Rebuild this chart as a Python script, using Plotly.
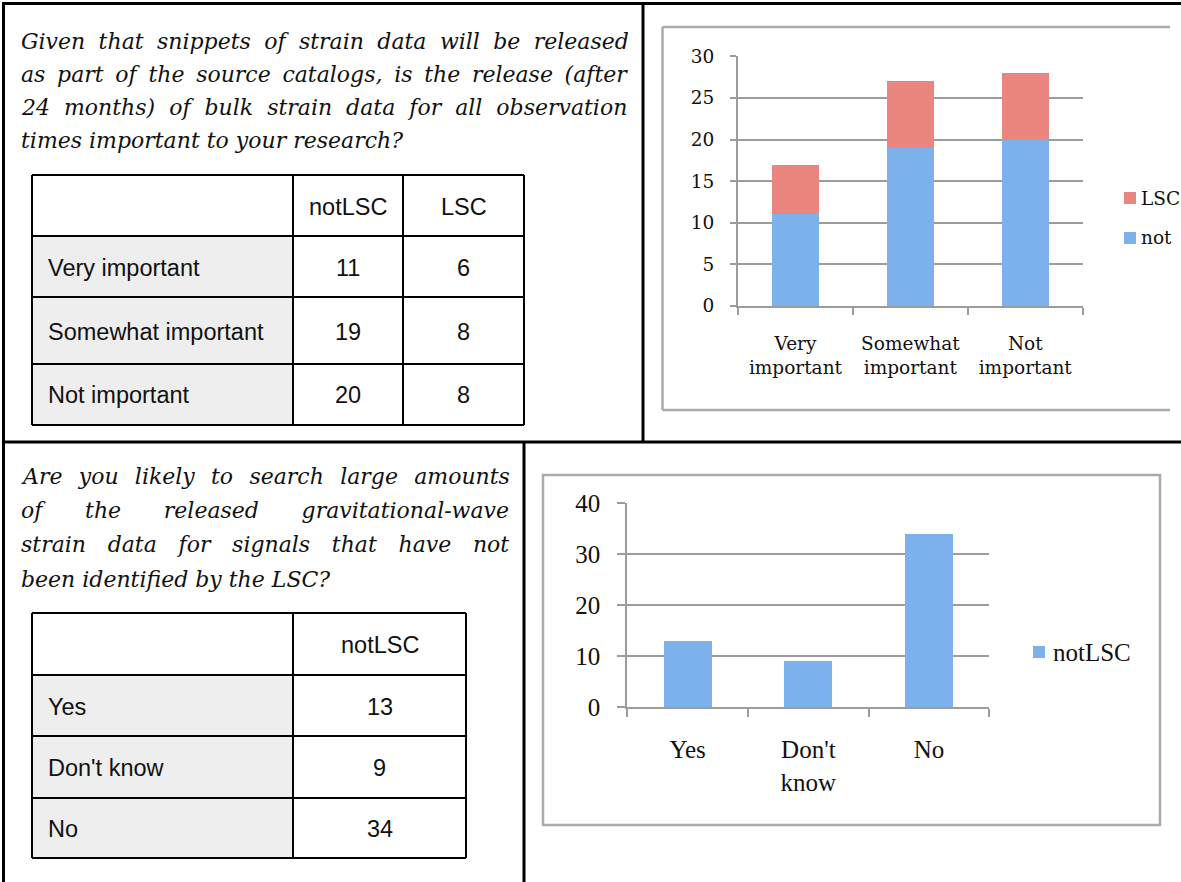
import plotly.graph_objects as go

W, H = 1181, 882

# ---------------- data ----------------
imp_categories = ["Very important", "Somewhat important", "Not important"]
imp_ticktext = ["Very<br>important", "Somewhat<br>important", "Not<br>important"]
imp_notLSC = [11, 19, 20]
imp_LSC = [6, 8, 8]

search_categories = ["Yes", "Don't know", "No"]
search_ticktext = ["Yes", "Don't<br>know", "No"]
search_notLSC = [13, 9, 34]

top_question = [
    "Given that snippets of strain data will be released",
    "as part of the source catalogs, is the release (after",
    "24 months) of bulk strain data for all observation",
    "times important to your research?",
]
bottom_question = [
    "Are you likely to search large amounts",
    "of the released gravitational-wave",
    "strain data for signals that have not",
    "been identified by the LSC?",
]

# ---------------- styles ----------------
BLUE = "#7db1ec"
RED = "#eb857f"
GRID = "#9c9c9c"
BOX = "#aaaaaa"
TXT = "#111111"
SERIF_TOP = "DejaVu Serif"
SERIF_BOT = "Liberation Serif"
SANS = "Liberation Sans"
TOP_FS = 18.5
BOT_FS = 25


def X(px):
    return px / W


def Y(py):
    return 1 - py / H


fig = go.Figure()

fig.add_trace(go.Bar(x=imp_categories, y=imp_notLSC, name="notLSC", marker=dict(color=BLUE, line=dict(width=0)),
                     width=0.41, xaxis="x", yaxis="y", showlegend=False))
fig.add_trace(go.Bar(x=imp_categories, y=imp_LSC, name="LSC", marker=dict(color=RED, line=dict(width=0)),
                     width=0.41, xaxis="x", yaxis="y", showlegend=False))
fig.add_trace(go.Bar(x=search_categories, y=search_notLSC, name="notLSC", marker=dict(color=BLUE, line=dict(width=0)),
                     width=0.40, xaxis="x2", yaxis="y2", showlegend=False))

shapes = []
annotations = []


def hline(x0, x1, y, color="black", w=2):
    shapes.append(dict(type="line", xref="paper", yref="paper", x0=X(x0), x1=X(x1), y0=Y(y), y1=Y(y),
                       line=dict(color=color, width=w)))


def vline(x, y0, y1, color="black", w=2):
    shapes.append(dict(type="line", xref="paper", yref="paper", x0=X(x), x1=X(x), y0=Y(y0), y1=Y(y1),
                       line=dict(color=color, width=w)))


def rect(x0, y0, x1, y1, fill, layer="below"):
    shapes.append(dict(type="rect", xref="paper", yref="paper", x0=X(x0), x1=X(x1), y0=Y(y0), y1=Y(y1),
                       fillcolor=fill, line=dict(width=0), layer=layer))


def text(x, y, s, family, size, xanchor="left", style="normal", color=TXT):
    annotations.append(dict(xref="paper", yref="paper", x=X(x), y=Y(y), text=s, showarrow=False,
                            xanchor=xanchor, yanchor="middle",
                            font=dict(family=family, size=size, color=color, style=style)))


# ---------------- page frame ----------------
hline(2, W, 3.5, w=3)
vline(3.5, 2, H, w=3)
vline(643, 3, 442, w=3)
hline(2, W, 442, w=3)
vline(524, 442, H, w=3)

# ---------------- chart boxes ----------------
hline(662.5, 1170, 27, color=BOX, w=2.5)
hline(662.5, 1170, 410, color=BOX, w=2.5)
vline(662.5, 27, 410, color=BOX, w=2.5)
shapes.append(dict(type="rect", xref="paper", yref="paper", x0=X(543), x1=X(1160), y0=Y(475), y1=Y(825),
                   line=dict(color=BOX, width=2.5), fillcolor="rgba(0,0,0,0)"))

# ---------------- tables ----------------
def table(xs, ys, rows, header, values):
    rect(xs[0], ys[1], xs[1], ys[-1], "#eeeeee")
    for x in xs:
        vline(x, ys[0], ys[-1], w=2)
    for y in ys:
        hline(xs[0], xs[-1], y, w=2)
    for j, h in enumerate(header):
        text((xs[j + 1] + xs[j + 2]) / 2, (ys[0] + ys[1]) / 2 + 1, h, SANS, 23.5, xanchor="center")
    for i, r in enumerate(rows):
        yc = (ys[i + 1] + ys[i + 2]) / 2 + 1
        text(xs[0] + 14, yc, r, SANS, 23.5)
        for j, col in enumerate(values):
            text((xs[j + 1] + xs[j + 2]) / 2, yc, str(col[i]), SANS, 23.5, xanchor="center")


table([32, 293, 403, 524], [175, 236, 297, 364, 425], imp_categories, ["notLSC", "LSC"], [imp_notLSC, imp_LSC])
table([32, 293, 466], [613, 675, 736, 798, 858], search_categories, ["notLSC"], [search_notLSC])

# ---------------- question text ----------------
QSIZE = 22
top_ws = [6.4, 4.7, 7, 0]
for i, (line, ws) in enumerate(zip(top_question, top_ws)):
    s = f'<span style="word-spacing:{ws}px">{line}</span>' if ws else line
    text(19, 41.5 + 33 * i, s, SERIF_TOP, QSIZE, style="italic")

bot_ws = [9.3, 35.7, 14.7, 0]
bot_y = [476, 510, 544, 579]
for line, ws, yy in zip(bottom_question, bot_ws, bot_y):
    s = f'<span style="word-spacing:{ws}px">{line}</span>' if ws else line
    text(19, yy, s, SERIF_TOP, QSIZE, style="italic")

# ---------------- legends (manual, the cell clips the right edge) ----------------
rect(1124, 192, 1136, 204, RED, layer="above")
text(1139, 198, "LSC", SERIF_TOP, TOP_FS)
rect(1124, 232, 1136, 244, BLUE, layer="above")
text(1139, 238, "not", SERIF_TOP, TOP_FS)

rect(1033, 646, 1045, 658, BLUE, layer="above")
text(1051, 652, "notLSC", SERIF_BOT, BOT_FS)

axis_common = dict(showline=True, linecolor=GRID, linewidth=2, ticks="outside", tickcolor=GRID, tickwidth=2,
                   zeroline=False, automargin=False, fixedrange=True)

fig.update_layout(
    width=W, height=H, margin=dict(l=0, r=0, t=0, b=0, pad=0, autoexpand=False),
    paper_bgcolor="white", plot_bgcolor="white",
    barmode="stack", showlegend=False,
    xaxis=dict(domain=[X(738), X(1082.7)], anchor="y", type="category", showgrid=False,
               tickson="boundaries", ticklen=7, tickvals=imp_categories, ticktext=imp_ticktext,
               ticklabelstandoff=20,
               tickfont=dict(family=SERIF_TOP, size=TOP_FS, color=TXT), **axis_common),
    yaxis=dict(domain=[Y(306), Y(56.4)], anchor="x", range=[0, 30], dtick=5, showgrid=True,
               gridcolor=GRID, gridwidth=2, ticklen=6, ticklabelstandoff=12,
               tickfont=dict(family=SERIF_TOP, size=TOP_FS, color=TXT), **axis_common),
    xaxis2=dict(domain=[X(627.3), X(989.4)], anchor="y2", type="category", showgrid=False,
                tickson="boundaries", ticklen=8, tickvals=search_categories, ticktext=search_ticktext,
                ticklabelstandoff=19,
                tickfont=dict(family=SERIF_BOT, size=BOT_FS, color=TXT), **axis_common),
    yaxis2=dict(domain=[Y(707.3), Y(503.3)], anchor="x2", range=[0, 40], dtick=10, showgrid=True,
                gridcolor=GRID, gridwidth=2, ticklen=8, ticklabelstandoff=12,
                tickfont=dict(family=SERIF_BOT, size=BOT_FS, color=TXT), **axis_common),
    shapes=shapes, annotations=annotations,
)

fig.write_html("out.html")
